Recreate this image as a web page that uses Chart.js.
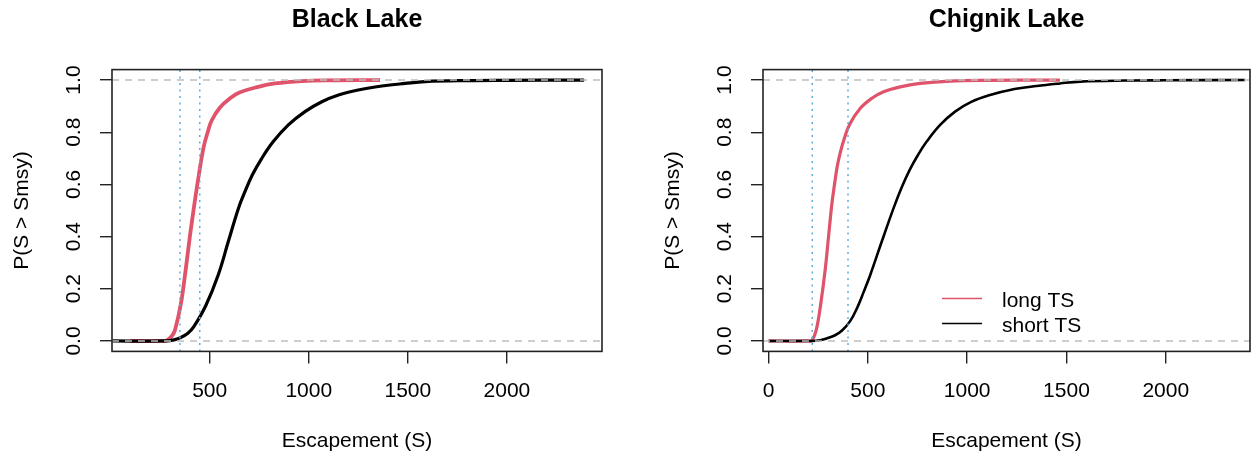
<!DOCTYPE html>
<html><head><meta charset="utf-8">
<script src="https://cdn.jsdelivr.net/npm/chart.js@4.4.1/dist/chart.umd.min.js"></script>
<style>
html,body{margin:0;padding:0;background:#fff;}
#wrap{position:relative;width:1253px;height:460px;overflow:hidden;background:#fff;}
canvas{position:absolute;top:0;}
</style></head><body>
<div id="wrap">
<canvas id="c1" width="626" height="460" style="left:0px"></canvas>
<canvas id="c2" width="602" height="460" style="left:651px"></canvas>
</div>
<script>
// ---------- data ----------
const panelTitles = ['Black Lake', 'Chignik Lake'];
const seriesLabels = ['long TS', 'short TS'];
const xAxisTitle = 'Escapement (S)';
const yAxisTitle = 'P(S > Smsy)';
const xTicksBlack = [500, 1000, 1500, 2000];
const xTicksChignik = [0, 500, 1000, 1500, 2000];
const yTicks = [0, 0.2, 0.4, 0.6, 0.8, 1.0];
const hLines = [0, 1];
const vLinesBlack = [350, 450];
const vLinesChignik = [220, 400];

// Black Lake
const blackLongX  = [100, 250, 283, 310, 325, 355, 380, 400, 422, 446, 470, 490, 510, 552, 603, 650, 745, 830, 965, 1100, 1360];
const blackLongY  = [0, 0, 0.002, 0.02, 0.042, 0.144, 0.28, 0.40, 0.52, 0.64, 0.745, 0.80, 0.845, 0.895, 0.93, 0.952, 0.974, 0.987, 0.996, 0.999, 1.0];
const blackShortX = [10, 283, 320, 350, 390, 420, 480, 543, 594, 645, 678, 715, 763, 821, 897, 981, 1066, 1150, 1250, 1369, 1486, 1587, 1800, 2000, 2390];
const blackShortY = [0, 0, 0.004, 0.012, 0.03, 0.055, 0.135, 0.253, 0.381, 0.508, 0.572, 0.636, 0.700, 0.764, 0.828, 0.879, 0.917, 0.943, 0.962, 0.977, 0.987, 0.994, 0.998, 0.999, 1.0];

// Chignik Lake
const chignikLongX  = [0, 200, 218, 240, 263, 285, 302, 319, 332, 346, 362, 381, 408, 461, 520, 579, 663, 763, 914, 1100, 1467];
const chignikLongY  = [0, 0, 0.002, 0.042, 0.144, 0.272, 0.40, 0.527, 0.60, 0.67, 0.725, 0.775, 0.83, 0.891, 0.93, 0.955, 0.974, 0.987, 0.996, 0.999, 1.0];
const chignikShortX = [0, 218, 260, 294, 335, 370, 410, 445, 480, 512, 570, 629, 670, 710, 750, 797, 864, 939, 1023, 1115, 1216, 1350, 1467, 1568, 1800, 2000, 2400];
const chignikShortY = [0, 0, 0.003, 0.01, 0.022, 0.04, 0.075, 0.125, 0.19, 0.253, 0.381, 0.508, 0.588, 0.655, 0.71, 0.765, 0.828, 0.879, 0.917, 0.943, 0.962, 0.977, 0.987, 0.994, 0.998, 0.999, 1.0];

// ---------- helpers ----------
const FONT = 'Liberation Sans, Arial, Helvetica, sans-serif';
const RED = '#DF536B', BLK = '#000000', GREY = '#BEBEBE', BLUE = '#5DADE2';
const pts = (xs, ys) => xs.map((x, i) => ({x, y: ys[i]}));

const boxPlugin = {
  id: 'rBox',
  afterDatasetsDraw(chart) {
    const {ctx, chartArea: a} = chart;
    ctx.save();
    ctx.strokeStyle = '#222';
    ctx.lineWidth = 1.6;
    ctx.strokeRect(a.left, a.top, a.right - a.left, a.bottom - a.top);
    ctx.restore();
  }
};
const titlePlugin = {
  id: 'rTitle',
  afterDraw(chart, args, opts) {
    const {ctx, chartArea: a} = chart;
    ctx.save();
    ctx.font = 'bold 25px ' + FONT;
    ctx.fillStyle = '#000';
    ctx.textAlign = 'center';
    ctx.textBaseline = 'alphabetic';
    ctx.fillText(opts.text, (a.left + a.right) / 2, opts.baseline);
    ctx.restore();
  }
};
const legendPlugin = {
  id: 'rLegend',
  afterDraw(chart, args, opts) {
    if (!opts.show) return;
    const ctx = chart.ctx;
    const series = chart.data.datasets.filter(d => d.isSeries);
    ctx.save();
    ctx.font = '21px ' + FONT;
    ctx.textAlign = 'left';
    ctx.textBaseline = 'alphabetic';
    series.forEach((d, i) => {
      const yb = opts.baseline + i * opts.rowGap;
      ctx.strokeStyle = d.borderColor;
      ctx.lineWidth = 1.6;
      ctx.beginPath();
      ctx.moveTo(opts.x, yb - 8);
      ctx.lineTo(opts.x + opts.lineLen, yb - 8);
      ctx.stroke();
      ctx.fillStyle = '#000';
      ctx.fillText(d.label, opts.textX, yb);
    });
    ctx.restore();
  }
};

function makePanel(canvasId, cfg) {
  const datasets = [];
  datasets.push({label: seriesLabels[0], isSeries: true, data: pts(cfg.longX, cfg.longY),
    borderColor: RED, borderWidth: cfg.wRed, tension: 0.4, order: 2});
  datasets.push({label: seriesLabels[1], isSeries: true, data: pts(cfg.shortX, cfg.shortY),
    borderColor: BLK, borderWidth: cfg.wBlk, tension: 0.4, order: 1});
  hLines.forEach(h => datasets.push({label: 'h', data: [{x: cfg.xmin, y: h}, {x: cfg.xmax, y: h}],
    borderColor: GREY, borderWidth: 1.6, borderDash: [7, 6], tension: 0, order: 0}));
  cfg.vLines.forEach(v => datasets.push({label: 'v', data: [{x: v, y: -0.04}, {x: v, y: 1.04}],
    borderColor: BLUE, borderWidth: 1.5, borderDash: [2, 4.5], tension: 0, order: 0}));

  return new Chart(document.getElementById(canvasId), {
    type: 'line',
    data: {datasets},
    options: {
      responsive: false, animation: false, devicePixelRatio: 1, events: [],
      layout: {padding: {top: 69.6, right: cfg.padRight, left: 0, bottom: 0}},
      elements: {point: {radius: 0}},
      plugins: {
        legend: {display: false}, tooltip: {enabled: false}, title: {display: false},
        rTitle: {text: cfg.title, baseline: 26.5},
        rLegend: {show: cfg.legend, x: 291, lineLen: 40, textX: 351, baseline: 306.5, rowGap: 25}
      },
      scales: {
        x: {
          type: 'linear', position: 'bottom', min: cfg.xmin, max: cfg.xmax,
          afterBuildTicks: s => { s.ticks = cfg.xTicks.map(v => ({value: v})); },
          afterFit: s => { s.height = 460 - 351.4; },
          grid: {display: true, drawOnChartArea: false, drawTicks: true, tickLength: 12, color: '#222', lineWidth: 1.4},
          border: {display: false},
          ticks: {font: {family: FONT, size: 21}, color: '#000', padding: 15, maxRotation: 0, minRotation: 0,
            callback: v => String(v)},
          title: {display: true, text: xAxisTitle, font: {family: FONT, size: 21}, color: '#000', padding: {top: 0, bottom: 6.4}}
        },
        y: {
          type: 'linear', position: 'left', min: -0.04, max: 1.04,
          afterBuildTicks: s => { s.ticks = yTicks.map(v => ({value: v})); },
          afterFit: s => { s.width = 112; },
          grid: {display: true, drawOnChartArea: false, drawTicks: true, tickLength: 12, color: '#222', lineWidth: 1.4},
          border: {display: false},
          ticks: {font: {family: FONT, size: 21}, color: '#000', padding: 11, minRotation: 90, maxRotation: 90,
            crossAlign: 'center', callback: v => v.toFixed(1)},
          title: {display: true, text: yAxisTitle, font: {family: FONT, size: 21}, color: '#000', padding: {top: 9.4, bottom: 0}}
        }
      }
    },
    plugins: [boxPlugin, titlePlugin, legendPlugin]
  });
}

makePanel('c1', {title: panelTitles[0], xmin: 7, xmax: 2480, xTicks: xTicksBlack, vLines: vLinesBlack,
  longX: blackLongX, longY: blackLongY, shortX: blackShortX, shortY: blackShortY,
  wRed: 3.8, wBlk: 3.2, padRight: 24, legend: false});
makePanel('c2', {title: panelTitles[1], xmin: -28, xmax: 2424, xTicks: xTicksChignik, vLines: vLinesChignik,
  longX: chignikLongX, longY: chignikLongY, shortX: chignikShortX, shortY: chignikShortY,
  wRed: 3.2, wBlk: 2.6, padRight: 3, legend: true});
</script>
</body></html>
